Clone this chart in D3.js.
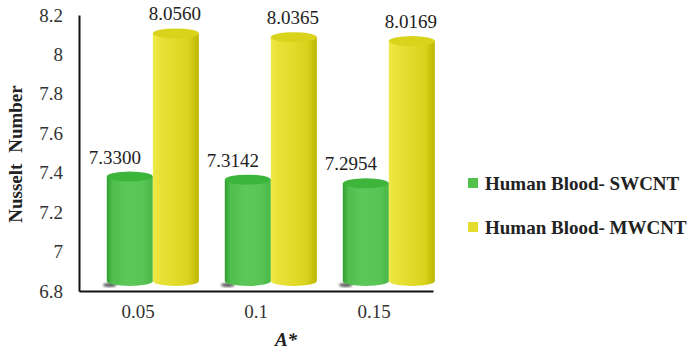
<!DOCTYPE html>
<html>
<head>
<meta charset="utf-8">
<script src="https://cdn.jsdelivr.net/npm/d3@7/dist/d3.min.js"></script>
</head>
<body style="margin:0">
<svg id="chart" width="690" height="357"></svg>
<script>
// Nusselt number for two nanofluids at three values of A*
const categories = ["0.05", "0.1", "0.15"];
const seriesNames = ["Human Blood- SWCNT", "Human Blood- MWCNT"];
const swcntValues = [7.3300, 7.3142, 7.2954];
const mwcntValues = [8.0560, 8.0365, 8.0169];
const yTicks = [6.8, 7, 7.2, 7.4, 7.6, 7.8, 8, 8.2];

const FONT = "'Liberation Serif', 'Times New Roman', Tinos, serif";
const svg = d3.select("#chart");
const defs = svg.append("defs");

const plot = { left: 79, right: 433, top: 15, bottom: 291 };
const depth = { dx: 16, dy: -10 };   // 3-D offset of the cylinders
const capRy = 5;                      // vertical radius of cylinder caps

const x0 = d3.scaleBand().domain(categories).range([plot.left, plot.right]);
const bw = x0.bandwidth();
const x1 = d3.scaleBand().domain(seriesNames).range([bw * 0.1, bw * 0.88]);
const y = d3.scaleLinear().domain([6.8, 8.2]).range([plot.bottom, plot.top]);

const palette = {
  "Human Blood- SWCNT": { stops: ["#2f9f2f", "#4fbe4c", "#5cc85a", "#58c455", "#48b845"], cap: "#3cb53a", swatch: "#52c24e", labelShift: -15 },
  "Human Blood- MWCNT": { stops: ["#efe94a", "#e9e33a", "#e3dc2c", "#d8d11c", "#bdb600"], cap: "#d9d31c", swatch: "#e3dc2c", labelShift: -1 }
};

seriesNames.forEach((s, i) => {
  const g = defs.append("linearGradient").attr("id", "grad" + i)
    .attr("x1", "0%").attr("x2", "100%").attr("y1", "0%").attr("y2", "0%");
  const offs = [0, 0.12, 0.45, 0.8, 1];
  palette[s].stops.forEach((c, k) => g.append("stop").attr("offset", offs[k]).attr("stop-color", c));
});
defs.append("filter").attr("id", "soft").append("feGaussianBlur").attr("stdDeviation", 1.2);

const rows = [];
categories.forEach((c, ci) => {
  rows.push({ cat: c, series: seriesNames[0], value: swcntValues[ci], gi: 0 });
  rows.push({ cat: c, series: seriesNames[1], value: mwcntValues[ci], gi: 1 });
});

// cylinders
const bars = svg.append("g").selectAll("g").data(rows).join("g");
bars.each(function (d) {
  const g = d3.select(this);
  const xl = x0(d.cat) + x1(d.series) + depth.dx;
  const w = x1.bandwidth();
  const rx = w / 2;
  const cx = xl + rx;
  const yTop = y(d.value) + depth.dy;
  const yBase = y(6.8) + depth.dy;
  if (d.gi === 0) {
    g.append("ellipse").attr("cx", xl + 3).attr("cy", yBase + capRy - 1)
      .attr("rx", 7).attr("ry", 2.2).attr("fill", "#333").attr("opacity", 0.75)
      .attr("filter", "url(#soft)");
  }
  const body = `M${xl},${yTop} L${xl},${yBase} A${rx},${capRy} 0 0 0 ${xl + w},${yBase} L${xl + w},${yTop} Z`;
  g.append("path").attr("d", body).attr("fill", `url(#grad${d.gi})`);
  g.append("ellipse").attr("cx", cx).attr("cy", yTop).attr("rx", rx).attr("ry", capRy)
    .attr("fill", palette[d.series].cap);
});

// value labels
svg.append("g").selectAll("text").data(rows).join("text")
  .attr("x", d => x0(d.cat) + x1(d.series) + x1.bandwidth() / 2 + depth.dx + palette[d.series].labelShift)
  .attr("y", d => y(d.value) + depth.dy - 13)
  .attr("text-anchor", "middle")
  .style("font-family", FONT)
  .style("font-size", "19px")
  .style("fill", "#222")
  .text(d => d.value.toFixed(4));

// axes
const yAxis = d3.axisLeft(y).tickValues(yTicks).tickSize(0).tickPadding(16)
  .tickFormat(d => d3.format("")(+d.toFixed(1)));
const gy = svg.append("g").attr("transform", `translate(${plot.left},0)`).call(yAxis);
gy.select(".domain").attr("stroke", "#111").attr("stroke-width", 2);
gy.selectAll("text").style("font-family", FONT).style("font-size", "19px").style("fill", "#333");

const xAxis = d3.axisBottom(x0).tickSize(0).tickPadding(14);
const gx = svg.append("g").attr("transform", `translate(0,${plot.bottom})`).call(xAxis);
gx.select(".domain").attr("stroke", "#111").attr("stroke-width", 2);
gx.selectAll("text").style("font-family", FONT).style("font-size", "19px").style("fill", "#333");

// axis titles
svg.append("text")
  .attr("transform", "translate(22,154) rotate(-90)")
  .attr("text-anchor", "middle")
  .style("font-family", FONT)
  .style("font-size", "19px")
  .style("font-weight", "bold")
  .style("fill", "#222")
  .style("word-spacing", "6px")
  .text("Nusselt Number");

svg.append("text")
  .attr("x", 286).attr("y", 346)
  .attr("text-anchor", "middle")
  .style("font-family", FONT)
  .style("font-size", "19px")
  .style("font-weight", "bold")
  .style("font-style", "italic")
  .style("fill", "#222")
  .text("A*");

// legend
const legend = svg.append("g").selectAll("g").data(seriesNames).join("g")
  .attr("transform", (d, i) => `translate(468,${183 + i * 44})`);
legend.append("rect").attr("x", 0).attr("y", -5).attr("width", 10).attr("height", 10)
  .attr("fill", d => palette[d].swatch);
legend.append("text").attr("x", 17).attr("y", 6.5)
  .style("font-family", FONT)
  .style("font-size", "19px").style("font-weight", "bold").style("fill", "#222")
  .text(d => d);
</script>
</body>
</html>
